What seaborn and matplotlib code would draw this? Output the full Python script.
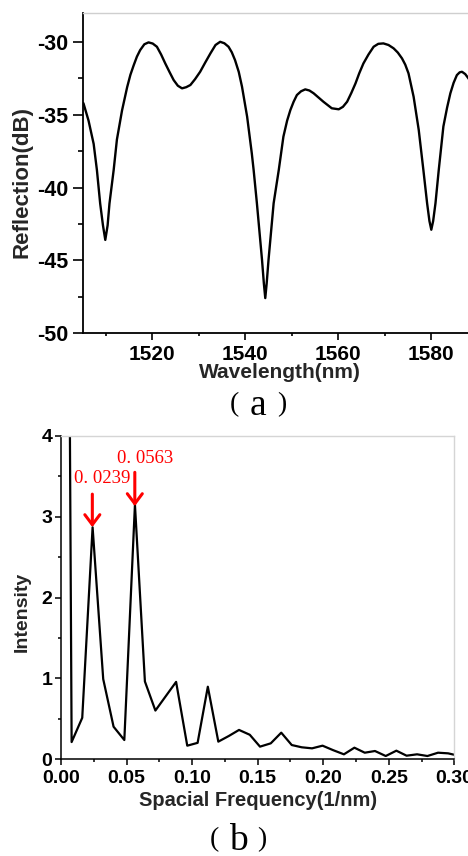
import matplotlib
matplotlib.use("Agg")
import matplotlib.pyplot as plt
import seaborn as sns
import pandas as pd

# ---------------- data ----------------
wavelength_nm = [1505.2, 1506.3, 1507.4, 1508.1, 1508.8, 1509.4, 1509.9, 1510.4, 1510.8, 1511.7,
                 1512.4, 1513.5, 1514.6, 1515.3, 1516.0, 1516.7, 1517.4, 1518.3, 1519.2, 1520.1,
                 1521.0, 1521.9, 1522.8, 1523.7, 1524.6, 1525.5, 1526.4, 1527.3, 1528.2, 1529.2,
                 1530.3, 1531.4, 1532.5, 1533.6, 1534.6, 1535.5, 1536.4, 1537.1, 1537.8, 1538.6,
                 1539.3, 1540.4, 1541.4, 1541.8, 1542.5, 1543.6, 1544.0, 1544.3, 1544.6, 1545.0,
                 1546.1, 1547.2, 1548.2, 1549.0, 1549.7, 1550.4, 1551.1, 1552.0, 1552.9, 1553.8,
                 1554.7, 1556.8, 1558.6, 1560.1, 1561.0, 1561.9, 1562.8, 1563.7, 1564.5, 1565.4,
                 1566.5, 1567.6, 1568.6, 1569.7, 1570.8, 1571.9, 1572.8, 1573.7, 1574.4, 1575.1,
                 1576.2, 1577.3, 1578.3, 1579.1, 1579.6, 1580.0, 1580.4, 1580.9, 1581.6, 1582.6,
                 1583.4, 1584.1, 1584.8, 1585.5, 1586.1, 1586.6, 1587.3, 1588.0, 1589.0]
reflection_db = [-34.2, -35.4, -37.0, -38.8, -41.1, -42.6, -43.6, -42.6, -41.1, -38.8,
                 -36.7, -34.7, -33.1, -32.25, -31.6, -31.0, -30.55, -30.15, -30.02, -30.1,
                 -30.32, -30.85, -31.47, -32.05, -32.61, -33.0, -33.18, -33.1, -32.95, -32.55,
                 -32.04, -31.4, -30.78, -30.2, -29.98, -30.08, -30.32, -30.7, -31.24, -32.05,
                 -33.07, -35.13, -37.64, -38.8, -41.08, -44.97, -46.6, -47.6, -46.6, -44.97,
                 -41.08, -38.8, -36.5, -35.4, -34.67, -34.1, -33.64, -33.38, -33.25, -33.33,
                 -33.52, -34.1, -34.55, -34.62, -34.45, -34.1, -33.5, -32.84, -32.15, -31.47,
                 -30.85, -30.32, -30.12, -30.09, -30.2, -30.43, -30.72, -31.12, -31.55, -32.15,
                 -33.76, -36.04, -38.8, -41.08, -42.3, -42.9, -42.3, -41.08, -38.8, -35.8,
                 -34.5, -33.52, -32.8, -32.27, -32.08, -32.04, -32.2, -32.5, -33.0]

spatial_freq = [0.0, 0.0081, 0.0162, 0.0241, 0.0322, 0.0401, 0.0483, 0.0564, 0.0640, 0.0720,
                0.0800, 0.0878, 0.0963, 0.1042, 0.1120, 0.1200, 0.1280, 0.1358, 0.1440, 0.1518,
                0.1600, 0.1680, 0.1760, 0.1836, 0.1915, 0.1995, 0.2075, 0.2158, 0.2238, 0.2317,
                0.2395, 0.2477, 0.2558, 0.2636, 0.2716, 0.2795, 0.2876, 0.2953, 0.3033]
intensity = [24.0, 0.21, 0.51, 2.87, 0.99, 0.40, 0.235, 3.15, 0.96, 0.60,
             0.78, 0.955, 0.165, 0.20, 0.895, 0.215, 0.285, 0.36, 0.30, 0.153,
             0.194, 0.326, 0.173, 0.145, 0.132, 0.165, 0.11, 0.058, 0.14, 0.078,
             0.099, 0.037, 0.103, 0.041, 0.058, 0.037, 0.078, 0.07, 0.04]

peak_freqs = [0.0239, 0.0563]
peak_vals = [2.87, 3.13]
peak_labels = ["0. 0239", "0. 0563"]

a_xticks = [1520, 1540, 1560, 1580]
a_yticks = [-50, -45, -40, -35, -30]
b_xticks = [0.00, 0.05, 0.10, 0.15, 0.20, 0.25, 0.30]
b_yticks = [0, 1, 2, 3, 4]

# ---------------- style ----------------
sns.set_theme(style="ticks")
plt.rcParams['font.family'] = ['Liberation Sans', 'DejaVu Sans']
plt.rcParams['font.weight'] = 'bold'

W, H = 468, 856
fig = plt.figure(figsize=(W / 100, H / 100), dpi=100)
fig.patch.set_facecolor('white')

def fx(px):
    return px / W

def fy(py):
    return 1 - py / H

def panel_tag(letter, cx, cy):
    serif = dict(family=['Liberation Serif', 'DejaVu Serif'], fontweight='normal', color='black')
    fig.text(fx(cx - 23.5), fy(cy), "(", ha='center', va='center', fontsize=20, **serif)
    fig.text(fx(cx + 23.5), fy(cy), ")", ha='center', va='center', fontsize=20, **serif)
    fig.text(fx(cx), fy(cy + 1), letter, ha='center', va='center', fontsize=27, **serif)

# ---------------- panel (a) ----------------
ax1 = fig.add_axes([fx(82.5), fy(333), 395.3 / W, 320 / H])
df_a = pd.DataFrame({"wavelength": wavelength_nm, "reflection": reflection_db})
sns.lineplot(data=df_a, x="wavelength", y="reflection", ax=ax1, color="black",
             linewidth=1.7, estimator=None, sort=False)
for ln in ax1.lines:
    ln.set_solid_joinstyle('round')
ax1.set_xlim(1505, 1590)
ax1.set_ylim(-50, -28)
ax1.set_xticks(a_xticks)
ax1.set_xticks([1510, 1530, 1550, 1570, 1590], minor=True)
ax1.set_yticks(a_yticks)
ax1.set_yticks([-47.5, -42.5, -37.5, -32.5], minor=True)
ax1.set_xticklabels([str(v) for v in a_xticks], fontsize=15, fontweight='bold')
ax1.set_yticklabels([str(v) for v in a_yticks], fontsize=15.5, fontweight='bold')
ax1.tick_params(axis='x', which='major', direction='out', length=5, width=1.2, pad=3.5, colors='black')
ax1.tick_params(axis='x', which='minor', direction='out', length=2.5, width=1.2, colors='black')
ax1.tick_params(axis='y', which='major', direction='out', length=7.5, width=1.2, pad=2.5, colors='black')
ax1.tick_params(axis='y', which='minor', direction='out', length=3.5, width=1.2, colors='black')
ax1.set_xlabel("")
ax1.set_ylabel("")
for s in ['left', 'bottom']:
    ax1.spines[s].set_color('black')
    ax1.spines[s].set_linewidth(1.3)
for s in ['top', 'right']:
    ax1.spines[s].set_color('#cfcfcf')
    ax1.spines[s].set_linewidth(1.0)

fig.text(fx(280), fy(372), "Wavelength(nm)", ha='center', va='center', fontsize=15, fontweight='bold')
fig.text(fx(22.5), fy(182), "Reflection(dB)", ha='center', va='center', rotation=90,
         fontsize=16, fontweight='bold')
panel_tag("a", 258, 405)

# ---------------- panel (b) ----------------
ax2 = fig.add_axes([fx(61), fy(759), 393.3 / W, 323 / H])
df_b = pd.DataFrame({"freq": spatial_freq, "intensity": intensity})
sns.lineplot(data=df_b, x="freq", y="intensity", ax=ax2, color="black",
             linewidth=1.6, estimator=None, sort=False)
ax2.set_xlim(0, 0.30)
ax2.set_ylim(0, 4)
ax2.set_xticks(b_xticks)
ax2.set_xticks([0.025, 0.075, 0.125, 0.175, 0.225, 0.275], minor=True)
ax2.set_yticks(b_yticks)
ax2.set_yticks([0.5, 1.5, 2.5, 3.5], minor=True)
ax2.set_xticklabels([f"{v:.2f}" for v in b_xticks], fontsize=14, fontweight='bold')
ax2.set_yticklabels([str(v) for v in b_yticks], fontsize=14, fontweight='bold')
ax2.tick_params(axis='both', which='major', direction='out', length=4.3, width=1.1, colors='black')
ax2.tick_params(axis='both', which='minor', direction='out', length=2.2, width=1.1, colors='black')
ax2.tick_params(axis='x', which='major', pad=3.5)
ax2.tick_params(axis='y', which='major', pad=2)
ax2.set_xlabel("")
ax2.set_ylabel("")
for s in ['left', 'bottom']:
    ax2.spines[s].set_color('black')
    ax2.spines[s].set_linewidth(1.1)
for s in ['top', 'right']:
    ax2.spines[s].set_color('#d5d5d5')
    ax2.spines[s].set_linewidth(1.0)

# peak annotations
text_pos = [(0.0316, 3.476), (0.0640, 3.72)]
arrow_tops = [3.28, 3.55]
for f, v, lab, (tx, ty), top in zip(peak_freqs, peak_vals, peak_labels, text_pos, arrow_tops):
    ax2.annotate("", xy=(f, v), xytext=(f, top),
                 arrowprops=dict(arrowstyle="->,head_length=0.6,head_width=0.45",
                                 color="#ff0000", lw=2.2, mutation_scale=12,
                                 shrinkA=0, shrinkB=0))
    ax2.text(tx, ty, lab, color="#ff0000", ha='center', va='center', fontsize=13.5,
             family=['Liberation Serif'], fontweight='normal')

fig.text(fx(258), fy(801), "Spacial Frequency(1/nm)", ha='center', va='center', fontsize=14.5,
         fontweight='bold')
fig.text(fx(22.5), fy(612), "Intensity", ha='center', va='center', rotation=90,
         fontsize=14, fontweight='bold')
panel_tag("b", 238, 840)

fig.savefig("out.png", dpi=100, facecolor='white')
